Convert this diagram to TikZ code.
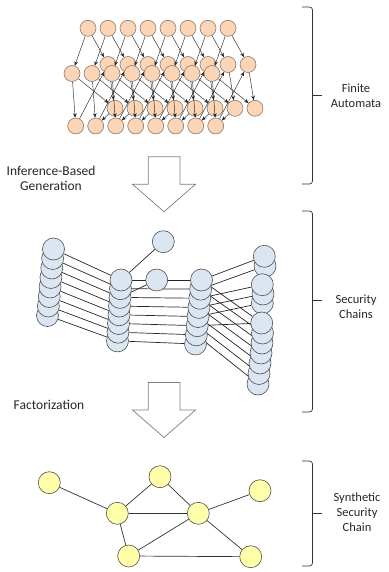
\documentclass[tikz,border=0pt]{standalone}
\usepackage{fontspec}
\setmainfont{Carlito}
\usetikzlibrary{arrows.meta}
\pgfdeclarelayer{back}
\pgfdeclarelayer{edges}
\pgfsetlayers{back,edges,main}
\definecolor{fafill}{HTML}{FBD5B5}
\definecolor{faline}{HTML}{7A6A60}
\definecolor{scfill}{HTML}{DCE6F2}
\definecolor{scline}{HTML}{505050}
\definecolor{ssfill}{HTML}{FFFFAA}
\definecolor{ssline}{HTML}{505050}
\definecolor{labelcol}{HTML}{262626}
\definecolor{arrowline}{HTML}{7F7F7F}
\begin{document}
\begin{tikzpicture}[x=1pt,y=-1pt,
  fa/.style={circle,draw=faline,fill=fafill,line width=0.5pt,minimum size=16pt,inner sep=0pt},
  sc/.style={circle,draw=scline,fill=scfill,line width=0.6pt,minimum size=22pt,inner sep=0pt},
  ss/.style={circle,draw=ssline,fill=ssfill,line width=0.6pt,minimum size=22pt,inner sep=0pt},
  faarrow/.style={-{Stealth[length=4.5pt,width=3.6pt]},line width=0.45pt,draw=black!85},
  scedge/.style={line width=0.7pt,draw=black!85},
  ssedge/.style={line width=0.7pt,draw=black!80},
  bigarrow/.style={draw=arrowline,fill=white,line width=0.7pt},
  lbl/.style={font=\fontsize{12.5}{15}\selectfont,align=center,text=labelcol,inner sep=0pt},
  lbll/.style={font=\fontsize{13.5}{15}\selectfont,align=center,text=labelcol,inner sep=0pt},
  bracket/.style={draw=black!80,line width=0.7pt,rounded corners=3pt}]
\useasboundingbox (0,0) rectangle (388,572);

% ---------- Finite automata ----------
\begin{pgfonlayer}{back}
\foreach \k in {1,...,8} {
  \node[fa] (b2-\k) at ({108+20*(\k-1)},64.5) {};
  \node[fa] (b3-\k) at ({115+20*(\k-1)},108.3) {};
}
\end{pgfonlayer}
\foreach \k in {1,...,8} {
  \node[fa] (t-\k) at ({88+20*(\k-1)},28.3) {};
  \node[fa] (f2-\k) at ({72+20*(\k-1)},73.5) {};
  \node[fa] (f3-\k) at ({75.7+20*(\k-1)},126) {};
}
\begin{pgfonlayer}{edges}
\foreach \k in {1,...,8} {
  \draw[faarrow] (t-\k) -- (f2-\k);
  \draw[faarrow] (t-\k) -- (b2-\k);
  \draw[faarrow] (f2-\k) -- (f3-\k);
  \draw[faarrow] (f2-\k) -- (b3-\k);
  \draw[faarrow] (b2-\k) -- (b3-\k);
  \draw[faarrow] (f3-\k) -- (b2-\k);
}
\foreach \k [evaluate=\k as \n using int(\k+1)] in {1,...,7} {
  \draw[faarrow] (b3-\k) -- (f3-\n);
}
\end{pgfonlayer}

% ---------- Security chains ----------
\foreach \k in {8,7,...,1} {
  \node[sc] (l-\k) at ({53.5-6*(\k-1)/7},{249+9.5*(\k-1)}) {};
}
\foreach \k in {8,7,...,1} {
  \node[sc] (c2-\k) at ({121-3.5*(\k-1)/7},{280+8.7*(\k-1)}) {};
}
\foreach \k in {8,7,...,1} {
  \node[sc] (c3-\k) at ({201.5-6*(\k-1)/7},{280+9.14*(\k-1)}) {};
}
\foreach \k/\x/\y in {2/265/266,1/264.3/256.3,
                      5/262.3/303,4/263/294,3/262.3/284.7,
                      12/258/384,11/259/373.5,10/260/363,9/261/353,8/262/343,7/262.5/333,6/261.7/323} {
  \node[sc] (c4-\k) at (\x,\y) {};
}
\node[sc] (iso1) at (163.3,241.7) {};
\node[sc] (iso2) at (156.7,280) {};
\begin{pgfonlayer}{edges}
\foreach \k in {1,...,8} {
  \draw[scedge] (l-\k) -- (c2-\k);
  \draw[scedge] (c2-\k) -- (c3-\k);
}
\draw[scedge] (c2-1) -- (iso1);
\draw[scedge] (c2-3) -- (iso2);
\foreach \k in {1,...,6} { \draw[scedge] (c3-\k) -- (c4-\k); }
\foreach \k [evaluate=\k as \n using int(\k+5)] in {1,...,7} { \draw[scedge] (c3-\k) -- (c4-\n); }
\end{pgfonlayer}

% ---------- Synthetic security chain ----------
\node[ss] (sa) at (49.3,482.7) {};
\node[ss] (sb) at (160,476.7) {};
\node[ss] (sc) at (260,490.7) {};
\node[ss] (sd) at (117.3,513.3) {};
\node[ss] (se) at (198.3,513.3) {};
\node[ss] (sf) at (128.7,556) {};
\node[ss] (sg) at (250.7,556.7) {};
\begin{pgfonlayer}{edges}
\draw[ssedge] (sa) -- (sd);
\draw[ssedge] (sd) -- (sb);
\draw[ssedge] (sb) -- (se);
\draw[ssedge] (sd) -- (se);
\draw[ssedge] (se) -- (sc);
\draw[ssedge] (sd) -- (sf);
\draw[ssedge] (sf) -- (se);
\draw[ssedge] (sf) -- (sg);
\draw[ssedge] (se) -- (sg);
\end{pgfonlayer}

% ---------- Block arrows ----------
\draw[bigarrow] (148.3,156.7) -- (180,156.7) -- (180,184.3) -- (195.5,184.3) -- (164,211.7) -- (132.5,184.3) -- (148.3,184.3) -- cycle;
\draw[bigarrow] (148.3,382.5) -- (180,382.5) -- (180,410) -- (195.5,410) -- (164,437.5) -- (132.5,410) -- (148.3,410) -- cycle;

% ---------- Labels ----------
\node[lbll] (lab-inf) at (51,178.5) {Inference-Based\\Generation};
\node[lbll] (lab-fac) at (49,405) {Factorization};
\node[lbl] (lab-fa) at (356,96) {Finite\\Automata};
\node[lbl] (lab-sc) at (356,307) {Security\\Chains};
\node[lbl] (lab-ss) at (357,512) {Synthetic\\Security\\Chain};

% ---------- Brackets ----------
\draw[bracket] (302,7) -- (312.5,7) -- (312.5,184) -- (302,184);
\draw[bracket] (312.5,95.5) -- (322,95.5);
\draw[bracket] (302,211) -- (312.5,211) -- (312.5,412) -- (302,412);
\draw[bracket] (312.5,300) -- (322,300);
\draw[bracket] (302,461) -- (312.5,461) -- (312.5,566) -- (302,566);
\draw[bracket] (312.5,513) -- (322,513);
\end{tikzpicture}
\end{document}
